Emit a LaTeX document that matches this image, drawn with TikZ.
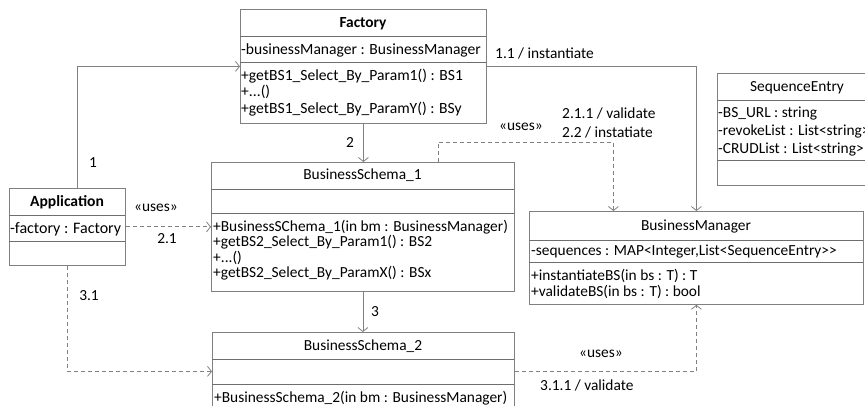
\documentclass[tikz,border=0pt]{standalone}
\usepackage{fontspec}
\setmainfont{Carlito}
\usetikzlibrary{arrows.meta,calc}
\definecolor{lc}{HTML}{808080}
\definecolor{sc}{HTML}{6E6E6E}
\tikzset{
 umlbox/.style={draw=lc, line width=0.8pt, rectangle, inner sep=0pt, anchor=north west},
 sepline/.style={draw=sc, line width=0.8pt},
 txt/.style={font=\fontsize{15.4}{18}\selectfont, inner sep=0pt, anchor=base west},
 factxt/.style={font=\fontsize{15.6}{18}\selectfont, inner sep=0pt, anchor=base west},
 apptxt/.style={font=\fontsize{16}{19}\selectfont, inner sep=0pt, anchor=base west},
 ttl/.style={font=\fontsize{15.4}{18}\selectfont, inner sep=0pt, anchor=base},
 lbl/.style={font=\fontsize{15.4}{18}\selectfont, inner sep=0pt},
 assoc/.style={draw=lc, line width=0.8pt, -{Straight Barb[length=4pt,width=10pt]}},
 dep/.style={assoc, dash pattern=on 4pt off 3pt},
}
\begin{document}
\begin{tikzpicture}[x=1pt,y=-1pt]
\useasboundingbox (0,0) rectangle (865,406);
\clip (0,0) rectangle (865,406);

% ---------- Factory
\node[umlbox, minimum width=246pt, minimum height=114pt] (fac) at (240,9) {};
\draw[sepline] (240,36) -- (486,36);
\draw[sepline] (240,62) -- (486,62);
\node[ttl, font=\fontsize{15.4}{18}\selectfont\bfseries] (facT) at (363,28) {Factory};
\node[factxt] (facA) at (241,54.5) {-businessManager : BusinessManager};
\node[factxt] (facO1) at (241,80.5) {+getBS1\_Select\_By\_Param1() : BS1};
\node[factxt] (facO2) at (241,97) {+...()};
\node[factxt] (facO3) at (241,113.5) {+getBS1\_Select\_By\_ParamY() : BSy};

% ---------- Application
\node[umlbox, minimum width=116pt, minimum height=77pt] (app) at (9,188) {};
\draw[sepline] (9,215) -- (125,215);
\draw[sepline] (9,241) -- (125,241);
\node[ttl, font=\fontsize{15.6}{18}\selectfont\bfseries] (appT) at (67,206.5) {Application};
\node[apptxt] (appA) at (10,233.5) {-factory : Factory};

% ---------- BusinessSchema_1
\node[umlbox, minimum width=303pt, minimum height=129pt] (bs1) at (211,162) {};
\draw[sepline] (211,189) -- (514,189);
\draw[sepline] (211,213) -- (514,213);
\node[ttl] (bs1T) at (362.5,180) {BusinessSchema\_1};
\node[txt] (bs1O1) at (213,232) {+BusinessSChema\_1(in bm : BusinessManager)};
\node[txt] (bs1O2) at (213,247) {+getBS2\_Select\_By\_Param1() : BS2};
\node[txt] (bs1O3) at (213,262) {+...()};
\node[txt] (bs1O4) at (213,277) {+getBS2\_Select\_By\_ParamX() : BSx};

% ---------- BusinessSchema_2
\node[umlbox, minimum width=302pt, minimum height=78pt] (bs2) at (212,332) {};
\draw[sepline] (212,359) -- (514,359);
\draw[sepline] (212,384) -- (514,384);
\node[ttl] (bs2T) at (363,350) {BusinessSchema\_2};
\node[txt] (bs2O1) at (214,402) {+BusinessSchema\_2(in bm : BusinessManager)};

% ---------- BusinessManager
\node[umlbox, minimum width=334pt, minimum height=93pt] (bm) at (529,211) {};
\draw[sepline] (529,240) -- (863,240);
\draw[sepline] (529,262) -- (863,262);
\node[ttl] (bmT) at (696,231) {BusinessManager};
\node[txt] (bmA) at (531,255) {-sequences : MAP<Integer,List<SequenceEntry>{}>};
\node[txt] (bmO1) at (531,280) {+instantiateBS(in bs : T) : T};
\node[txt] (bmO2) at (531,296) {+validateBS(in bs : T) : bool};

% ---------- SequenceEntry
\node[umlbox, minimum width=160pt, minimum height=112pt] (se) at (717,73) {};
\draw[sepline] (717,100) -- (877,100);
\draw[sepline] (717,160) -- (877,160);
\node[ttl] (seT) at (797,92) {SequenceEntry};
\node[txt] (seA1) at (718,118) {-BS\_URL : string};
\node[txt] (seA2) at (718,136) {-revokeList : List<string>};
\node[txt] (seA3) at (718,154) {-CRUDList : List<string>};

% ---------- connectors
\draw[assoc] ([xshift=10pt]app.north) |- (fac.west);
\draw[assoc] (fac.east) -| (bm.north);
\draw[assoc] (fac.south) -- (fac.south |- bs1.north);
\draw[assoc] (bs1.south) -- (bs1.south |- bs2.north);
\draw[dep] (app.east) -- (app.east -| bs1.west);
\draw[dep] (app.south) |- (bs2.west);
\draw[dep] ([xshift=75.5pt]bs1.north) -- ++(0,-20) -| ([xshift=-83pt]bm.north);
\draw[dep] (bs2.east) -| (bm.south);

% ---------- labels
\node[lbl] (l1) at (93,163) {1};
\node[lbl, anchor=west] (l11) at (495,53) {1.1 / instantiate};
\node[lbl] (l2) at (350,143) {2};
\node[lbl] (lu1) at (521,127) {«uses»};
\node[lbl, anchor=west] (l211) at (562,113) {2.1.1 / validate};
\node[lbl, anchor=west] (l22) at (562,132) {2.2 / instatiate};
\node[lbl] (lu2) at (156,208) {«uses»};
\node[lbl] (l21) at (167,239) {2.1};
\node[lbl] (l31) at (89,296) {3.1};
\node[lbl] (l3) at (375,312) {3};
\node[lbl] (lu3) at (601,354) {«uses»};
\node[lbl, anchor=west] (l311) at (540,385) {3.1.1 / validate};
\end{tikzpicture}
\end{document}
